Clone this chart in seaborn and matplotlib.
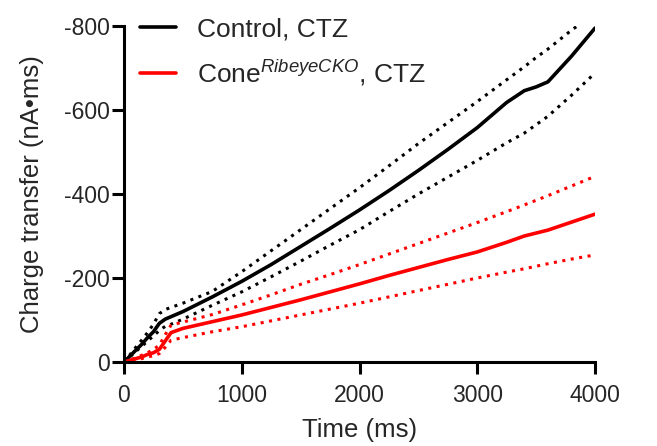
import numpy as np
import pandas as pd
import matplotlib
matplotlib.use("Agg")
import matplotlib.pyplot as plt
import seaborn as sns

# --- data ---
time_ms = [0, 50, 100, 150, 200, 250, 300, 350, 400, 500, 750, 1000, 1250, 1500,
           1750, 2000, 2250, 2500, 2750, 3000, 3250, 3400, 3500, 3600, 3800, 4000]

ctrl_mean = [0, -14, -28, -42, -58, -72, -92, -102, -108, -120, -155, -192, -232, -275,
             -318, -362, -408, -456, -506, -558, -618, -646, -655, -667, -728, -795]
ctrl_hi = [0, -17, -35, -52, -70, -90, -115, -125, -130, -140, -168, -215, -265, -315,
           -365, -415, -467, -520, -570, -620, -672, -703, -725, -745, -790, -830]
ctrl_lo = [0, -12, -25, -37, -50, -62, -75, -85, -90, -102, -135, -167, -203, -240,
           -278, -315, -358, -400, -440, -480, -522, -545, -565, -585, -635, -688]

cko_mean = [0, -4, -8, -12, -18, -22, -30, -50, -70, -80, -96, -112, -130, -148,
            -167, -186, -206, -225, -244, -262, -285, -300, -307, -314, -333, -352]
cko_hi = [0, -5, -10, -16, -22, -30, -40, -65, -88, -95, -113, -136, -160, -185,
          -208, -232, -257, -282, -307, -332, -358, -374, -385, -396, -419, -442]
cko_lo = [0, -3, -5, -8, -12, -15, -20, -35, -52, -58, -72, -84, -98, -112,
          -126, -140, -155, -170, -185, -200, -214, -222, -228, -234, -245, -255]

x_ticks = [0, 1000, 2000, 3000, 4000]
y_ticks = [0, -200, -400, -600, -800]

# --- style ---
sns.set_theme(style="ticks")
plt.rcParams['font.family'] = ['Liberation Sans', 'DejaVu Sans']
plt.rcParams['axes.unicode_minus'] = False
plt.rcParams['mathtext.fontset'] = 'custom'
plt.rcParams['mathtext.rm'] = 'Liberation Sans'
plt.rcParams['mathtext.it'] = 'Liberation Sans:italic'

df = pd.DataFrame({'t': time_ms,
                   'ctrl_mean': ctrl_mean, 'ctrl_hi': ctrl_hi, 'ctrl_lo': ctrl_lo,
                   'cko_mean': cko_mean, 'cko_hi': cko_hi, 'cko_lo': cko_lo})

fig = plt.figure(figsize=(6.57, 4.46), dpi=100)
ax = fig.add_axes([124 / 657, 1 - 362 / 446, (595 - 124) / 657, (362 - 26) / 446])

dot = (0, (1, 1.8))
sns.lineplot(data=df, x='t', y='ctrl_hi', ax=ax, color='black', lw=2.2, linestyle=dot)
sns.lineplot(data=df, x='t', y='ctrl_lo', ax=ax, color='black', lw=2.2, linestyle=dot)
sns.lineplot(data=df, x='t', y='cko_hi', ax=ax, color='#ff0000', lw=2.2, linestyle=dot)
sns.lineplot(data=df, x='t', y='cko_lo', ax=ax, color='#ff0000', lw=2.2, linestyle=dot)
sns.lineplot(data=df, x='t', y='ctrl_mean', ax=ax, color='black', lw=2.6,
             label='Control, CTZ')
sns.lineplot(data=df, x='t', y='cko_mean', ax=ax, color='#ff0000', lw=2.6,
             label=r'Cone$^{\mathit{RibeyeCKO}}$, CTZ')

ax.set_xlim(0, 4000)
ax.set_ylim(0, -800)
ax.set_xticks(x_ticks)
ax.set_yticks(y_ticks)
ax.set_xlabel('Time (ms)', fontsize=18.5, labelpad=8)
ax.set_ylabel('Charge transfer (nA•ms)', fontsize=18.5, labelpad=14)
ax.tick_params(labelsize=16.5, width=2.2, length=8.5, color='black')
ax.tick_params(axis='x', pad=7)
ax.tick_params(axis='y', pad=2)
for side in ['left', 'bottom']:
    ax.spines[side].set_linewidth(2.2)
    ax.spines[side].set_color('black')
sns.despine(ax=ax)

leg = ax.legend(loc='upper left', bbox_to_anchor=(0.035, 1.025), frameon=False,
                fontsize=19, handlelength=1.33, handletextpad=0.8, labelspacing=0.6,
                borderaxespad=0, borderpad=0)
for line in leg.get_lines():
    line.set_linewidth(2.6)

fig.savefig('out.png', dpi=100)
